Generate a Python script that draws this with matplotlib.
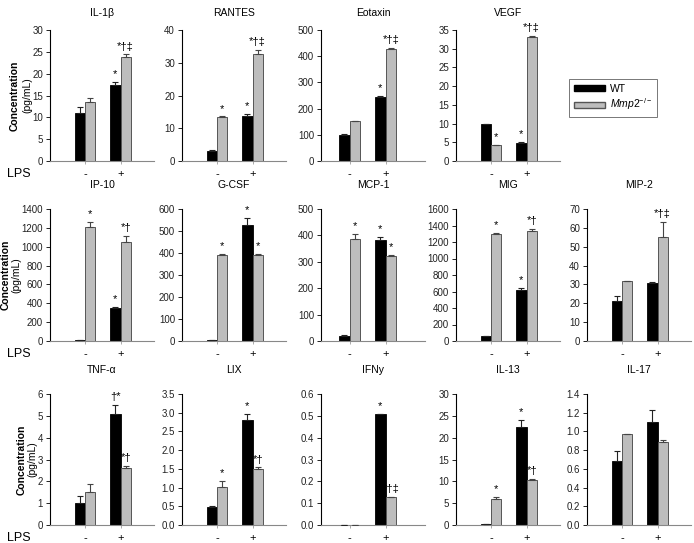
import matplotlib
matplotlib.use("Agg")
import matplotlib.pyplot as plt
from matplotlib.patches import Patch

plt.rcParams['font.family'] = ['Liberation Sans', 'DejaVu Sans']
plt.rcParams['mathtext.fontset'] = 'custom'
plt.rcParams['mathtext.rm'] = 'Liberation Sans'
plt.rcParams['mathtext.it'] = 'Liberation Sans:italic'

panels = ["IL-1β", "RANTES", "Eotaxin", "VEGF",
          "IP-10", "G-CSF", "MCP-1", "MIG", "MIP-2",
          "TNF-α", "LIX", "IFNy", "IL-13", "IL-17"]
# grid position (row, col)
grid_pos = [(0, 0), (0, 1), (0, 2), (0, 3),
            (1, 0), (1, 1), (1, 2), (1, 3), (1, 4),
            (2, 0), (2, 1), (2, 2), (2, 3), (2, 4)]
groups = ["-", "+"]

wt_mean = [[11.1, 17.4], [3.2, 13.8], [101, 245], [10.0, 4.9],
           [8, 345], [4, 528], [20, 383], [60, 617], [21, 30.5],
           [1.03, 5.1], [0.47, 2.81], [0, 0.51], [0.15, 22.5], [0.68, 1.1]]
wt_err = [[1.2, 0.8], [0.3, 0.7], [2, 2], [0, 0.3],
          [0, 15], [0, 33], [1, 12], [3, 30], [3, 0.7],
          [0.3, 0.4], [0.03, 0.15], [0, 0], [0, 1.5], [0.11, 0.13]]
ko_mean = [[13.5, 23.9], [13.4, 32.8], [151, 429], [4.2, 33.2],
           [1212, 1050], [392, 392], [385, 323], [1297, 1333], [31.8, 55],
           [1.53, 2.62], [1.02, 1.49], [0, 0.13], [5.9, 10.3], [0.97, 0.885]]
ko_err = [[0.9, 0.5], [0.2, 1.2], [1, 3], [0.1, 0.2],
          [55, 65], [3, 3], [22, 4], [10, 22], [0.2, 8],
          [0.35, 0.1], [0.15, 0.05], [0, 0], [0.5, 0.2], [0, 0.02]]
# annotations: WT-, KO-, WT+, KO+
annots = [["", "", "*", "*†‡"], ["", "*", "*", "*†‡"], ["", "", "*", "*†‡"], ["", "*", "*", "*†‡"],
          ["", "*", "*", "*†"], ["", "*", "*", "*"], ["", "*", "*", "*"], ["", "*", "*", "*†"], ["", "", "", "*†‡"],
          ["", "", "†*", "*†"], ["", "*", "*", "*†"], ["", "", "*", "*†‡"], ["", "*", "*", "*†"], ["", "", "", ""]]
y_max = [30, 40, 500, 35, 1400, 600, 500, 1600, 70, 6, 3.5, 0.6, 30, 1.4]
y_step = [5, 10, 100, 5, 200, 100, 100, 200, 10, 1, 0.5, 0.1, 5, 0.2]
y_dec = [0, 0, 0, 0, 0, 0, 0, 0, 0, 0, 1, 1, 0, 1]

W, H = 694, 543
fig = plt.figure(figsize=(W / 100, H / 100), dpi=100)

col_x = [50, 182, 321, 456, 587]
row_top = [30, 209, 394]
row_bot = [161, 341, 525]
ax_w = 104
ylab_x = [(15, 27), (6, 16), (22, 32)]

black = "#000000"
gray = "#bdbdbd"
bw = 0.29

for i, name in enumerate(panels):
    r, c = grid_pos[i]
    left = col_x[c] / W
    bottom = 1 - row_bot[r] / H
    height = (row_bot[r] - row_top[r]) / H
    ax = fig.add_axes([left, bottom, ax_w / W, height])
    xs = [1, 2]
    xw = [x - bw / 2 for x in xs]
    xk = [x + bw / 2 for x in xs]
    ax.bar(xw, wt_mean[i], width=bw, color=black, edgecolor=black, linewidth=0.6, zorder=2)
    ax.bar(xk, ko_mean[i], width=bw, color=gray, edgecolor="#555555", linewidth=0.7, zorder=2)
    ax.errorbar(xw, wt_mean[i], yerr=[[0, 0], wt_err[i]], fmt="none", ecolor="#222222",
                elinewidth=0.8, capsize=2, capthick=0.8, zorder=3)
    ax.errorbar(xk, ko_mean[i], yerr=[[0, 0], ko_err[i]], fmt="none", ecolor="#444444",
                elinewidth=0.8, capsize=2, capthick=0.8, zorder=3)
    tops = [(xw[0], wt_mean[i][0] + wt_err[i][0]), (xk[0], ko_mean[i][0] + ko_err[i][0]),
            (xw[1], wt_mean[i][1] + wt_err[i][1]), (xk[1], ko_mean[i][1] + ko_err[i][1])]
    for (x, y), t in zip(tops, annots[i]):
        if t:
            ax.annotate(t, (x, y), xytext=(0, 2), textcoords="offset points",
                        ha="center", va="bottom", fontsize=8)
    if c == 2:
        ax.set_xlim(0.2, 3.1)
    else:
        ax.set_xlim(0.0, 2.95)
    ax.set_ylim(0, y_max[i])
    n = int(round(y_max[i] / y_step[i]))
    ticks = [k * y_step[i] for k in range(n + 1)]
    ax.set_yticks(ticks)
    ax.set_yticklabels([f"{t:.{y_dec[i]}f}" for t in ticks])
    ax.set_xticks(xs)
    ax.set_xticklabels(groups)
    ax.tick_params(axis="y", labelsize=7, length=3, width=0.7, pad=2, colors="#222222")
    ax.tick_params(axis="x", labelsize=8, length=2, width=0.5, color="#888888", pad=4)
    ax.spines["top"].set_visible(False)
    ax.spines["right"].set_visible(False)
    ax.spines["left"].set_linewidth(0.8)
    ax.spines["bottom"].set_color("#888888")
    ax.spines["bottom"].set_linewidth(0.8)
    # title
    title_y = row_top[r] - (17 if r == 0 else 24)
    fig.text((col_x[c] + ax_w / 2) / W, 1 - title_y / H, name, ha="center", va="center", fontsize=7.5)

# y labels & LPS labels
for r in range(3):
    cy = (row_top[r] + row_bot[r]) / 2
    fig.text(ylab_x[r][0] / W, 1 - cy / H, "Concentration", rotation=90, ha="center", va="center",
             fontsize=7.5, fontweight="bold")
    fig.text(ylab_x[r][1] / W, 1 - cy / H, "(pg/mL)", rotation=90, ha="center", va="center", fontsize=7.5)
    fig.text(7 / W, 1 - (row_bot[r] + 13) / H, "LPS", ha="left", va="center", fontsize=9)

handles = [Patch(facecolor=black, edgecolor=black, label="WT"),
           Patch(facecolor=gray, edgecolor="#555555", label="$\\mathit{Mmp2}^{-/-}$")]
leg = fig.legend(handles=handles, loc="center", bbox_to_anchor=(613 / W, 1 - 98 / H),
                 fontsize=7.5, frameon=True, fancybox=False, handlelength=3.0, handleheight=0.5,
                 borderpad=0.4, labelspacing=0.3, handletextpad=0.5)
leg.get_frame().set_edgecolor("#555555")
leg.get_frame().set_linewidth(0.7)

fig.savefig("out.png", dpi=100)
